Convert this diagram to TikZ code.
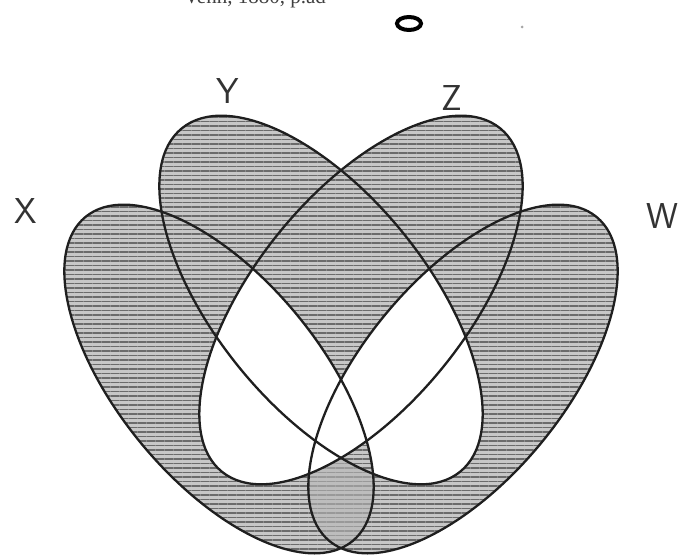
\documentclass[tikz,border=0pt]{standalone}
\usepackage{fontspec}
\newfontfamily\capfont{Liberation Serif}
\usetikzlibrary{patterns.meta}
\begin{document}
\begin{tikzpicture}[x=1pt,y=1pt,
  hatch/.style={fill=black!22, postaction={pattern={Lines[angle=0,distance=4.5pt,line width=1.5pt]}, pattern color=black!58}},
  hatchlight/.style={fill=black!26, postaction={pattern={Lines[angle=0,distance=4.5pt,line width=1.1pt]}, pattern color=black!40}},
  outline/.style={draw=black!88, line width=2.3pt},
  lab/.style={font=\sffamily\fontsize{36}{36}\selectfont, text=black!80, inner sep=0pt}]
\useasboundingbox (0,0) rectangle (679,558);
\def\ellX{(219,179) ellipse [x radius=210pt, y radius=101pt, rotate=-50.5]}
\def\ellW{(463,179) ellipse [x radius=210pt, y radius=101pt, rotate=50.5]}
\def\ellY{(321,258) ellipse [x radius=221pt, y radius=106pt, rotate=-51]}
\def\ellZ{(361,258) ellipse [x radius=221pt, y radius=106pt, rotate=51]}
% shade the union
\path[hatch] \ellX \ellY \ellZ \ellW;
% X and W : lighter stipple
\begin{scope}
  \clip \ellX;
  \path[hatchlight] \ellW;
\end{scope}
% Y and W : white
\begin{scope}
  \clip \ellY;
  \fill[white] \ellW;
\end{scope}
% X, Y, W (not Z): shaded again
\begin{scope}
  \clip \ellX;
  \clip \ellY;
  \path[hatch] \ellW;
\end{scope}
% X and Z : white
\begin{scope}
  \clip \ellX;
  \fill[white] \ellZ;
\end{scope}
% outlines
\draw[outline] \ellX;
\draw[outline] \ellY;
\draw[outline] \ellZ;
\draw[outline] \ellW;
% labels
\node[lab] (lx) at (26,347) {X};
\node[lab] (ly) at (228,467) {Y};
\node[lab] (lz) at (452,460) {Z};
\node[lab] (lw) at (662,342) {W};
% cut-off caption and mark at the top edge (cut off as in the reference)
\node[font=\capfont\fontsize{21}{21}\selectfont, anchor=base, inner sep=0pt, text=black!75] (cap) at (255,554.5) {Venn, 1880, p.ad};
\draw[line width=4pt, black] (409,534.5) ellipse [x radius=12pt, y radius=6.5pt];
\fill[black!35] (522,531) circle [radius=1.5pt];
\end{tikzpicture}
\end{document}
